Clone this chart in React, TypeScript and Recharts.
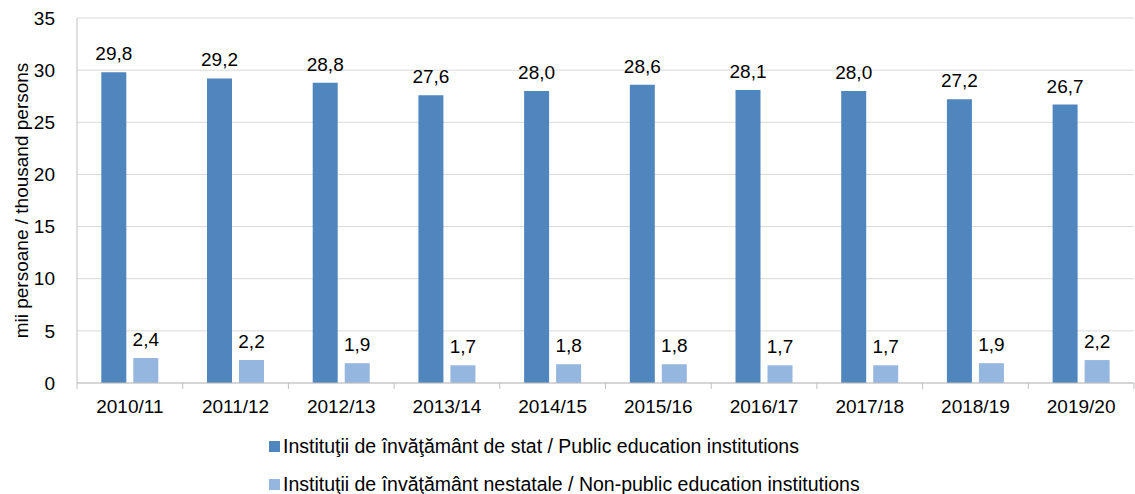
import React from 'react';
import { BarChart, Bar, XAxis, YAxis, CartesianGrid, Legend, LabelList } from 'recharts';

const years = ['2010/11', '2011/12', '2012/13', '2013/14', '2014/15', '2015/16', '2016/17', '2017/18', '2018/19', '2019/20'];
const publicInst = [29.8, 29.2, 28.8, 27.6, 28.0, 28.6, 28.1, 28.0, 27.2, 26.7];
const nonPublicInst = [2.4, 2.2, 1.9, 1.7, 1.8, 1.8, 1.7, 1.7, 1.9, 2.2];
const yTicks = [0, 5, 10, 15, 20, 25, 30, 35];

const PUBLIC_NAME = 'Instituţii de învăţământ de stat / Public education institutions';
const NONPUBLIC_NAME = 'Instituţii de învăţământ nestatale / Non-public education institutions';

const data = years.map((year, i) => ({
  year,
  pub: publicInst[i],
  nonpub: nonPublicInst[i],
}));

const FONT = '"Liberation Sans", Arial, sans-serif';
const AXIS = '#BFBFBF';
const FS = 19;

const fmt = (v: number) => v.toFixed(1).replace('.', ',');

const CategoryTick = (props: any) => {
  const { x, y, payload, index } = props;
  const half = payload?.offset ?? 0;
  return (
    <g>
      {index === 0 && <line x1={x - half} x2={x - half} y1={y - 8} y2={y - 2} stroke={AXIS} />}
      <line x1={x + half} x2={x + half} y1={y - 8} y2={y - 2} stroke={AXIS} />
      <text x={x} y={y + 22} textAnchor="middle" fontSize={FS} fill="#000" fontFamily={FONT}>
        {payload.value}
      </text>
    </g>
  );
};

const LegendBox = () => (
  <div style={{ fontFamily: FONT, fontSize: 19.5, color: '#000', height: 76, position: 'relative' }}>
    {[
      { name: PUBLIC_NAME, color: '#4F86BD', top: 17 },
      { name: NONPUBLIC_NAME, color: '#95B6DE', top: 55 },
    ].map((item) => (
      <div
        key={item.name}
        style={{ position: 'absolute', left: 269, top: item.top, height: 22, display: 'flex', alignItems: 'center', whiteSpace: 'nowrap' }}
      >
        <span style={{ display: 'inline-block', width: 11, height: 11, background: item.color, marginRight: 3 }} />
        <span>{item.name}</span>
      </div>
    ))}
  </div>
);

export default function App() {
  return (
    <div style={{ position: 'absolute', left: 0, top: 0, width: 1135, height: 494, overflow: 'hidden', background: '#fff' }}>
      <BarChart
        width={1135}
        height={494}
        data={data}
        margin={{ top: 18, right: 1, left: 0, bottom: 5 }}
        barCategoryGap="23%"
        barGap={7}
      >
        <CartesianGrid vertical={false} stroke="#D9D9D9" />
        <XAxis
          dataKey="year"
          tick={<CategoryTick />}
          tickLine={false}
          axisLine={{ stroke: AXIS }}
          height={30}
          interval={0}
        />
        <YAxis
          domain={[0, 35]}
          ticks={yTicks}
          width={77}
          tick={{ fontSize: FS, fill: '#000', fontFamily: FONT }}
          tickLine={false}
          tickMargin={16}
          axisLine={{ stroke: AXIS }}
          label={{
            value: 'mii persoane / thousand persons',
            angle: -90,
            position: 'insideLeft',
            offset: 21,
            style: { textAnchor: 'middle', fontSize: FS, fill: '#000', fontFamily: FONT },
          }}
        />
        <Legend verticalAlign="bottom" align="left" content={<LegendBox />} wrapperStyle={{ bottom: 0, left: 0 }} />
        <Bar dataKey="pub" name={PUBLIC_NAME} fill="#4F86BD" isAnimationActive={false}>
          <LabelList dataKey="pub" position="top" offset={12} formatter={fmt as any} style={{ fontSize: FS, fill: '#000', fontFamily: FONT }} />
        </Bar>
        <Bar dataKey="nonpub" name={NONPUBLIC_NAME} fill="#95B6DE" isAnimationActive={false}>
          <LabelList dataKey="nonpub" position="top" offset={12} formatter={fmt as any} style={{ fontSize: FS, fill: '#000', fontFamily: FONT }} />
        </Bar>
      </BarChart>
    </div>
  );
}
